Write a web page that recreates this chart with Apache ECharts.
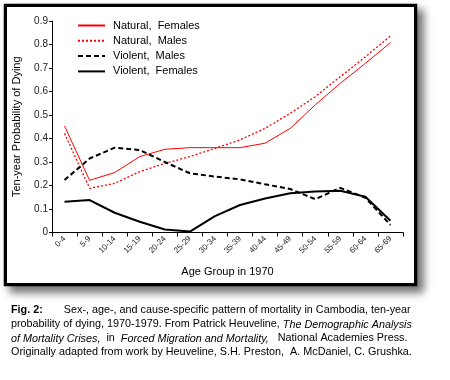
<!DOCTYPE html>
<html><head><meta charset="utf-8">
<script src="https://cdn.jsdelivr.net/npm/echarts@6/dist/echarts.min.js"></script>
<style>html,body{margin:0;padding:0;background:#fff}#c{width:450px;height:380px}</style>
</head><body><div id="c"></div>
<script>
const categories = ['0-4','5-9','10-14','15-19','20-24','25-29','30-34','35-39','40-44','45-49','50-54','55-59','60-64','65-69'];
const naturalFemales = [0.453,0.222,0.255,0.323,0.354,0.361,0.361,0.361,0.380,0.443,0.543,0.635,0.720,0.808];
const naturalMales   = [0.422,0.188,0.209,0.259,0.294,0.323,0.358,0.394,0.443,0.507,0.578,0.663,0.748,0.836];
const violentMales   = [0.223,0.315,0.361,0.351,0.300,0.252,0.238,0.226,0.205,0.185,0.142,0.190,0.148,0.032];
const violentFemales = [0.131,0.138,0.084,0.046,0.013,0.004,0.070,0.117,0.145,0.167,0.174,0.178,0.152,0.050];
const yTicks = [0,0.1,0.2,0.3,0.4,0.5,0.6,0.7,0.8,0.9];

const chart = echarts.init(document.getElementById('c'), null, {renderer:'canvas'});
const F = 'Liberation Sans, Arial, sans-serif';
const CS = 10.8;
chart.setOption({
  animation:false,
  backgroundColor:'#fff',
  textStyle:{fontFamily:F},
  grid:{left:52, top:21, width:351, height:211.5, containLabel:false},
  legend:{
    orient:'vertical', left:77, top:20, padding:0, itemWidth:27, itemHeight:10, itemGap:4.3,
    itemStyle:{opacity:0},
    textStyle:{fontSize:11, color:'#000', fontFamily:F, padding:[0,0,0,3]},
    data:['Natural,  Females','Natural,  Males','Violent,  Males','Violent,  Females']
  },
  xAxis:{
    type:'category', data:categories, boundaryGap:true,
    axisLine:{lineStyle:{color:'#000', width:1}},
    axisTick:{show:true, alignWithLabel:false, length:4, lineStyle:{color:'#000'}},
    axisLabel:{rotate:45, fontSize:8, color:'#222', margin:5, interval:0, fontFamily:F},
    name:'Age Group in 1970', nameLocation:'middle', nameGap:34,
    nameTextStyle:{fontSize:11, color:'#000', fontFamily:F}
  },
  yAxis:{
    type:'value', min:0, max:0.9, interval:0.1,
    splitLine:{show:false},
    axisLine:{show:true, lineStyle:{color:'#000', width:1}},
    axisTick:{show:true, length:3, lineStyle:{color:'#000'}},
    axisLabel:{fontSize:10, color:'#222', margin:4, fontFamily:F,
      formatter:function(v){ const t=yTicks.find(x=>Math.abs(x-v)<1e-6); return t===0?'0':String(t); }},
    name:'Ten-year Probability of Dying', nameLocation:'middle', nameGap:30,
    nameTextStyle:{fontSize:11, color:'#000', fontFamily:F}
  },
  series:[
    {name:'Natural,  Females', type:'line', data:naturalFemales, symbol:'none', z:3,
     lineStyle:{color:'#ff0000', width:1, type:'solid'}, itemStyle:{color:'#ff0000'}},
    {name:'Natural,  Males', type:'line', data:naturalMales, symbol:'none', z:3,
     lineStyle:{color:'#ff0000', width:1.3, type:[2,2]}, itemStyle:{color:'#ff0000'}},
    {name:'Violent,  Males', type:'line', data:violentMales, symbol:'none', z:3,
     lineStyle:{color:'#000', width:2, type:[5,3]}, itemStyle:{color:'#000'}},
    {name:'Violent,  Females', type:'line', data:violentFemales, symbol:'none', z:3,
     lineStyle:{color:'#000', width:2, type:'solid'}, itemStyle:{color:'#000'}}
  ],
  graphic:[
    {type:'rect', z:-10, silent:true, shape:{x:5,y:5,width:411,height:280},
     style:{fill:'#fff', stroke:'#000', lineWidth:2.5, shadowColor:'rgba(0,0,0,0.55)', shadowBlur:8, shadowOffsetX:6, shadowOffsetY:6}},
    {type:'rect', z:-9, silent:true, shape:{x:6,y:6,width:409,height:278},
     style:{fill:'#fff', stroke:'#000', lineWidth:2}},
    {type:'text', left:11, top:305, style:{
      text:'{b|Fig. 2:}{n|       Sex-, age-, and cause-specific pattern of mortality in Cambodia, ten-year}',
      rich:{b:{fontFamily:F, fontSize:CS, fontWeight:'bold', fill:'#000'}, n:{fontFamily:F, fontSize:CS, fill:'#000'}}}},
    {type:'text', left:11, top:319, style:{
      text:'{n|probability of dying, 1970-1979. From Patrick Heuveline, }{i|The Demographic Analysis}',
      rich:{i:{fontFamily:F, fontSize:CS, fontStyle:'italic', fill:'#000'}, n:{fontFamily:F, fontSize:CS, fill:'#000'}}}},
    {type:'text', left:11, top:333, style:{
      text:'{i|of Mortality Crises,}{n|  in  }{i|Forced Migration and Mortality,}{n|   National Academies Press.}',
      rich:{i:{fontFamily:F, fontSize:CS, fontStyle:'italic', fill:'#000'}, n:{fontFamily:F, fontSize:CS, fill:'#000'}}}},
    {type:'text', left:11, top:347, style:{
      text:'Originally adapted from work by Heuveline, S.H. Preston,  A. McDaniel, C. Grushka.',
      fontFamily:F, fontSize:CS, fill:'#000'}}
  ]
});
</script></body></html>
